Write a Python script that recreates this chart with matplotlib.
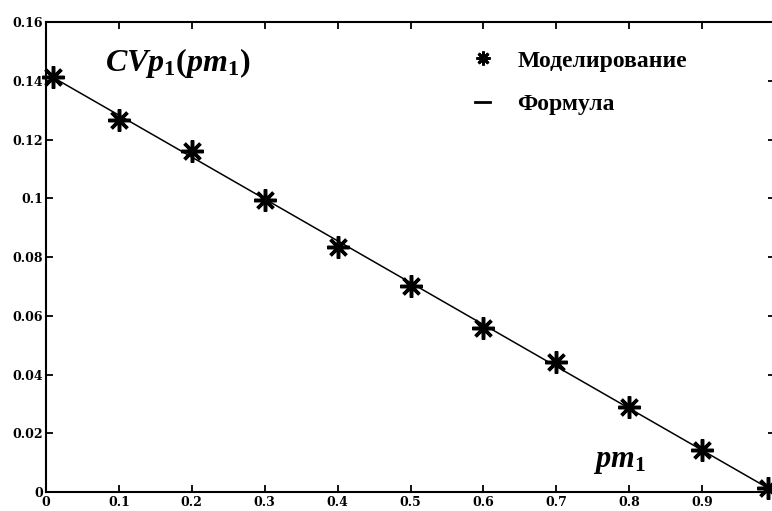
import matplotlib
matplotlib.use("Agg")
import matplotlib.pyplot as plt
from matplotlib.lines import Line2D

# Data
pm1_sim = [0.01, 0.1, 0.2, 0.3, 0.4, 0.5, 0.6, 0.7, 0.8, 0.9, 0.99]
cv_sim = [0.1412, 0.1266, 0.1162, 0.0994, 0.0835, 0.0701, 0.0557, 0.0441, 0.0290, 0.0143, 0.0013]
pm1_formula = [0.01, 0.99]
cv_formula = [0.1411, 0.0014]
xticks = [0, 0.1, 0.2, 0.3, 0.4, 0.5, 0.6, 0.7, 0.8, 0.9, 1.0]
xticklabels = ["0", "0.1", "0.2", "0.3", "0.4", "0.5", "0.6", "0.7", "0.8", "0.9", "1"]
yticks = [0, 0.02, 0.04, 0.06, 0.08, 0.1, 0.12, 0.14, 0.16]
yticklabels = ["0", "0.02", "0.04", "0.06", "0.08", "0.1", "0.12", "0.14", "0.16"]
labels = ["Моделирование", "Формула"]

plt.rcParams["mathtext.fontset"] = "custom"
plt.rcParams["mathtext.rm"] = "Liberation Serif:bold"
plt.rcParams["mathtext.it"] = "Liberation Serif:bold:italic"
plt.rcParams["mathtext.bf"] = "Liberation Serif:bold"

W, H = 772, 511
fig = plt.figure(figsize=(W / 100, H / 100), dpi=100)
left, right, bottom, top = 46, 775, 492, 22
ax = fig.add_axes([left / W, (H - bottom) / H, (right - left) / W, (bottom - top) / H])

asterisk = (8, 2, 0)
ax.plot(pm1_formula, cv_formula, color="black", lw=1.1, zorder=2)
ax.plot(pm1_sim, cv_sim, linestyle="none", marker=asterisk, markersize=16,
        markeredgewidth=2.5, color="black", zorder=3, clip_on=False)

ax.set_xlim(0, 1)
ax.set_ylim(0, 0.16)
ax.set_xticks(xticks)
ax.set_xticklabels(xticklabels)
ax.set_yticks(yticks)
ax.set_yticklabels(yticklabels)
for sp in ax.spines.values():
    sp.set_linewidth(1.5)
ax.tick_params(direction="in", length=5, width=1.3, top=True, right=True, pad=3)
for lab in ax.get_xticklabels() + ax.get_yticklabels():
    lab.set_fontfamily("DejaVu Serif")
    lab.set_fontweight("bold")
    lab.set_fontsize(9)
ax.tick_params(axis="y", pad=2)

ax.text(0.18, 0.146, r"$CVp_1(pm_1)$", fontsize=23, ha="center", va="center")
ax.text(0.786, 0.0105, r"$pm_1$", fontsize=22, ha="center", va="center")

handles = [
    Line2D([], [], linestyle="none", marker=asterisk, markersize=10, markeredgewidth=2, color="black"),
    Line2D([], [], color="black", lw=2),
]
leg = ax.legend(handles, labels, loc="upper left", bbox_to_anchor=(475 / W, (H - 50) / H),
                bbox_transform=fig.transFigure, frameon=False, handlelength=0.65,
                handletextpad=1.15, labelspacing=0.95, borderaxespad=0, borderpad=0,
                prop={"family": "Liberation Serif", "weight": "bold", "size": 17})

fig.savefig("out.png", dpi=100)
